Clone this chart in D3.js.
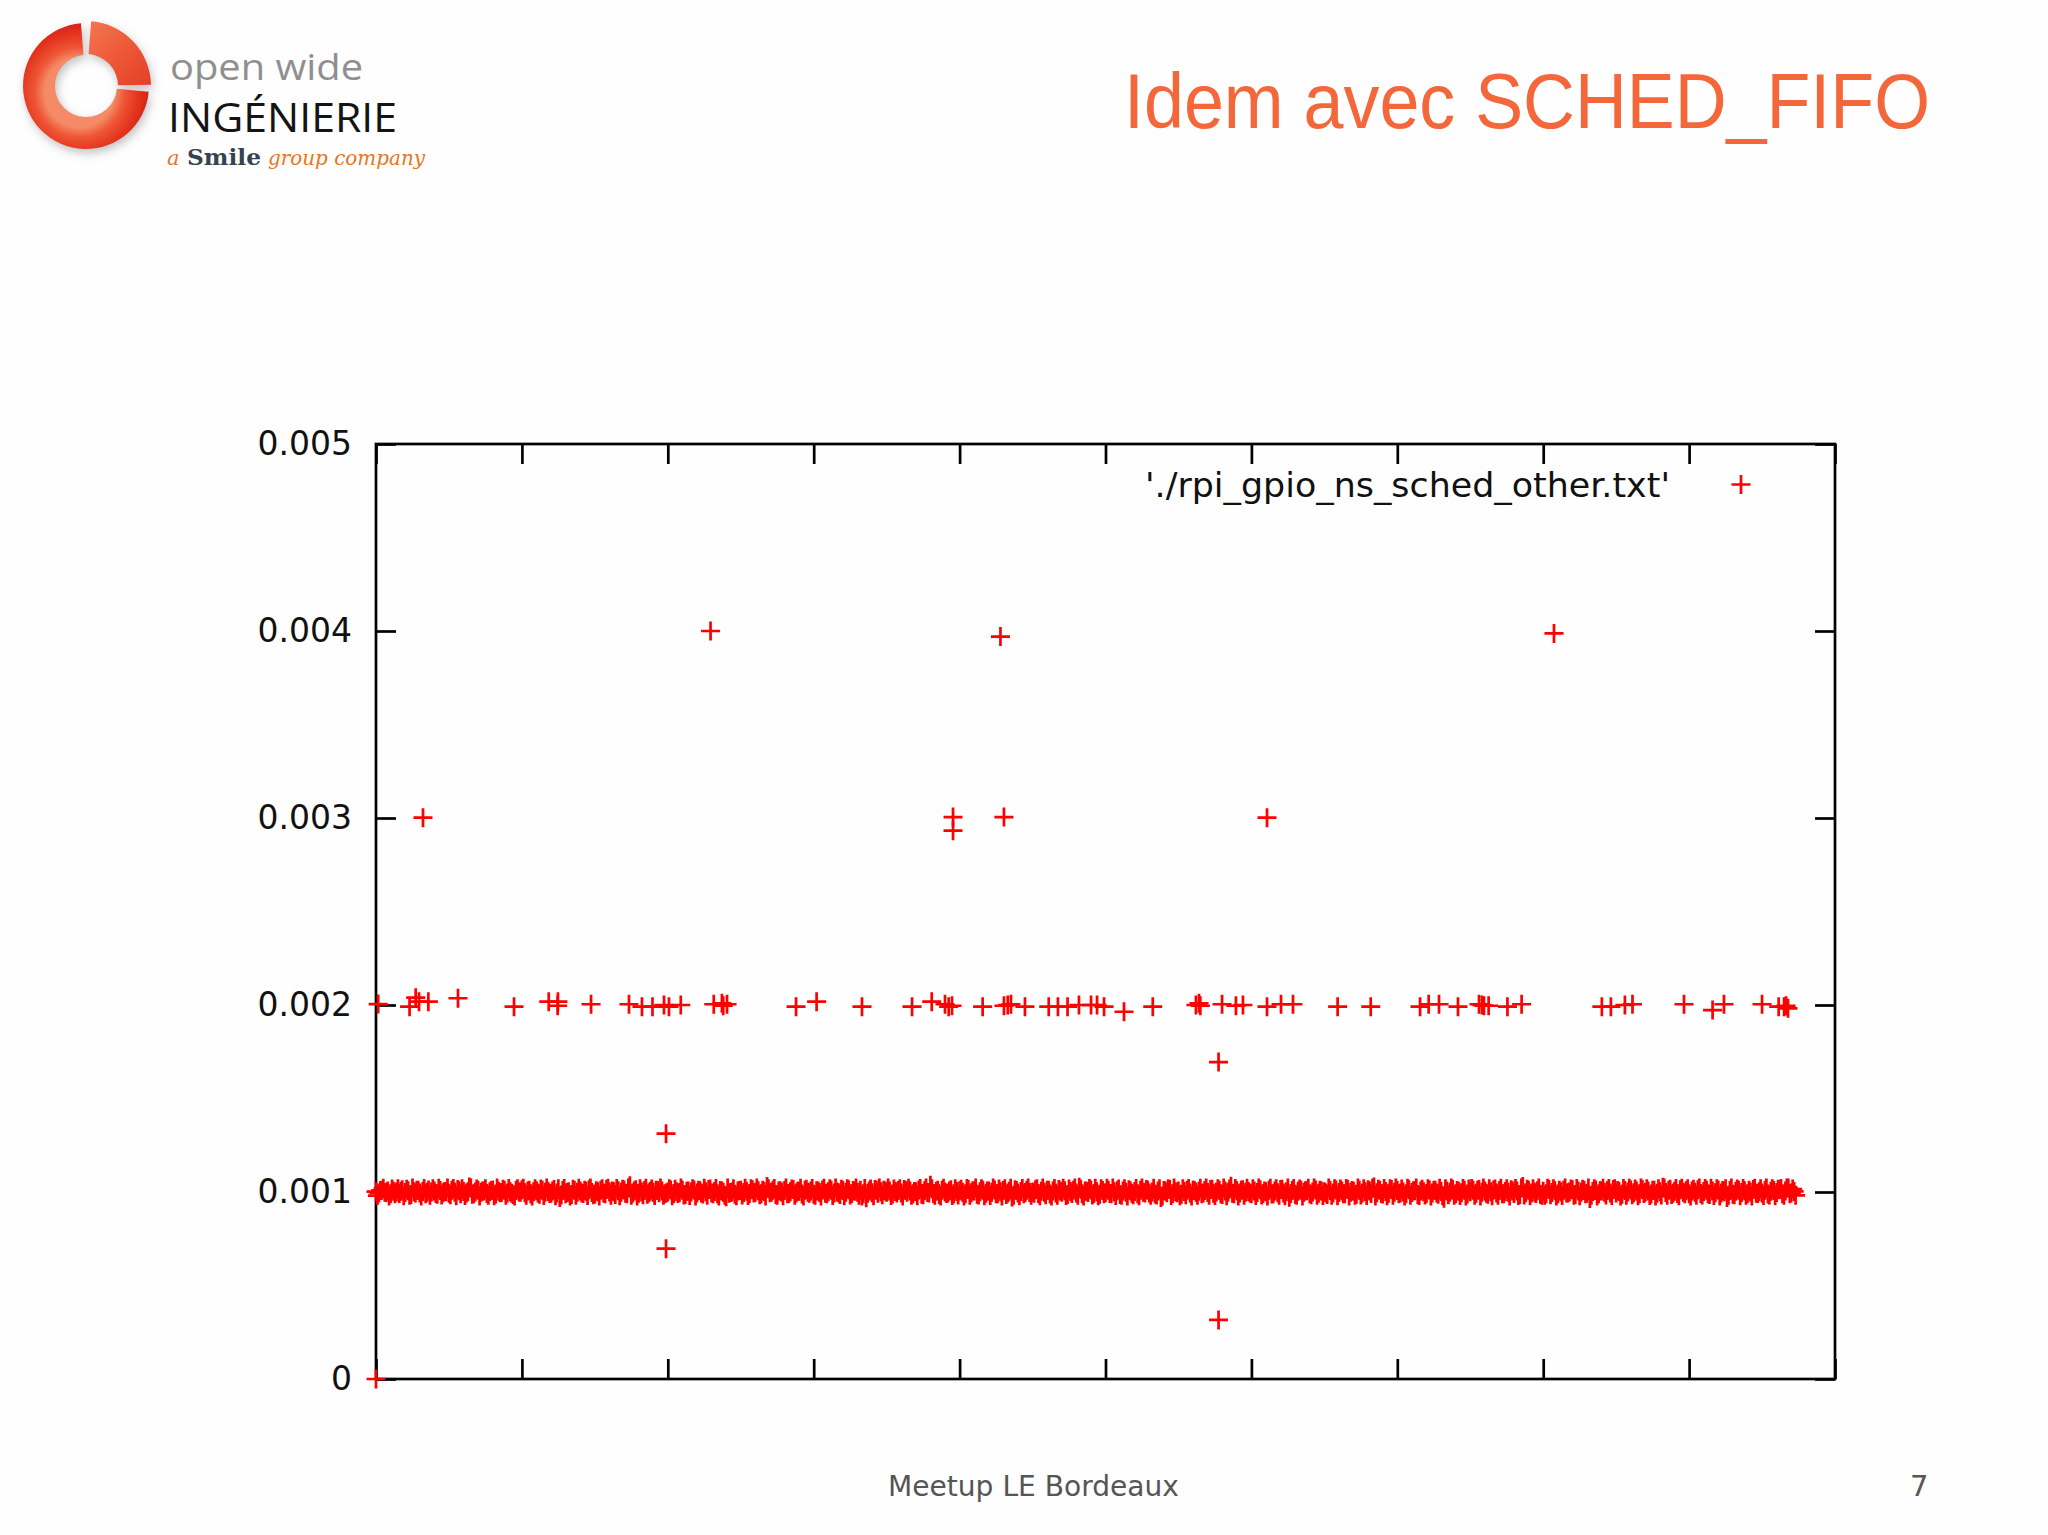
<!DOCTYPE html>
<html>
<head>
<meta charset="utf-8">
<script src="https://cdn.jsdelivr.net/npm/d3@7"></script>
<style>
  html, body { margin: 0; padding: 0; background: #ffffff; }
  svg { display: block; }
</style>
</head>
<body>
<svg id="slide" width="2048" height="1535"></svg>
<script>
// ---------------- DATA ----------------
const titleText = "Idem avec SCHED_FIFO";
const legendLabel = "'./rpi_gpio_ns_sched_other.txt'";
const footerText = "Meetup LE Bordeaux";
const pageNumber = "7";

const xDomain = [0, 10000];
const yDomain = [0, 0.005];
const xTickValues = [0, 1000, 2000, 3000, 4000, 5000, 6000, 7000, 8000, 9000, 10000];
const yTickValues = [0, 0.001, 0.002, 0.003, 0.004, 0.005];
const yTickLabels = ["0", "0.001", "0.002", "0.003", "0.004", "0.005"];

// dense main band around 1 ms: samples every bandStep indices (series A at index 0,20,40..., series B at 10,30,50...)
// value = bandBase + offset (µs)
const bandBase = 0.001;
const bandStep = 20;
const bandPhaseB = 10;
const bandOffsetsUsA = [
  2,-5,9,-1,6,-10,4,0,-8,12,-3,7,-13,1,9,-6,3,-10,11,0,5,-12,8,-4,1,
  -7,10,-2,13,-9,3,-5,27,-12,0,10,-1,6,-8,2,11,-11,4,-3,9,-6,1,-14,8,0,
  12,-4,5,-10,1,7,-12,10,-2,3,-7,14,-5,-30,8,-9,2,-13,10,-1,6,-8,4,12,-3,
  -11,1,9,-6,13,0,5,-14,7,-2,11,-9,33,-5,12,-7,0,8,-12,4,-1,10,-4,6,-10,
  0,11,-8,2,-3,9,-13,5,0,11,-6,7,-11,1,14,-5,3,-9,8,-2,-26,-7,0,-12,6,
  9,-3,4,-8,12,-1,7,-10,3,29,-4,10,-13,6,-2,8,-9,1,13,-6,4,-11,9,-1,5,
  -12,7,-3,11,-7,2,10,-5,0,-14,8,-2,12,-8,4,-1,9,-10,-31,6,-4,13,-7,1,10,
  -2,6,-11,3,8,-6,14,-1,5,-9,2,11,-12,7,-3,36,-8,4,-13,9,0,-5,12,-10,3,
  7,-1,-9,13,-4,5,-12,2,10,-7,6,-2,11,-10,1,8,-14,4,-27,12,-6,3,-9,9,-3,
  0,12,-8,4,-1,9,-11,6,-5,13,-2,7,-13,3,10,-6,25,-10,5,-3,11,-8,2,-12,8,
  -4,10,-9,1,7,-13,5,-1,12,-7,3,-10,9,-2,14,-5,0,-11,6,-29,8,-4,13,-8,2,
  6,-12,3,9,-6,11,-1,4,-10,8,-3,14,-7,0,10,-13,5,-2,31,-9,7,-5,12,-1,3,
  -9,5,-3,12,-8,1,9,-11,6,-4,13,-6,2,-28,8,-12,4,10,-2,7,-10,0,11,-7,5,
  1,-13,8,-5,11,-3,6,-9,14,-1,4,-12,9,-6,2,12,-8,27,-4,10,-11,3,-7,13,-2,
  8,-6,0,-10,12,-3,7,-14,5,1,-8,11,-5,9,-12,3,-33,6,-1,13,-9,4,-4,10,-11,
  2,9,-7,14,-2,6,-12,1,11,-5,8,-10,3,-1,12,-8,5,-13,29,-4,10,-6,0,7,-12,
  4,-9,13,-3,7,-11,2,10,-6,0,12,-13,6,-2,9,-7,-35,3,11,-10,5,-1,8,-5,14,
  -6,3,-12,8,0,11,-4,6,-9,13,-2,5,-11,10,-7,1,26,-3,9,-13,4,-8,12,-1,7,
  -10,5,-2,12,-8,3,9,-14,6,-4,11,-6,1,-30,8,-12,4,10,-3,7,-9,0,13,-7,2,
  -5,10,-11,4,8,-3,12,-9,6,22,-6,3
];
const bandOffsetsUsB = [
  -19,8,20,-3,-21,16,-9,18,4,-20,15,-17,21,-6,9,-21,19,-2,-18,17,-8,20,-16,3,21,
  -15,19,-20,7,17,-19,1,21,-9,16,-21,5,18,-17,8,-20,21,-4,15,-18,19,-7,-21,17,-1,
  20,-17,9,-21,18,-5,16,-19,21,-8,6,-20,17,-16,19,-3,-21,15,-18,20,-6,9,-19,21,-15,
  7,-21,18,-9,20,-17,2,19,-20,15,-7,21,-18,5,-21,17,-15,20,-4,16,-19,8,21,-17,-6,
  18,-20,15,-8,21,-16,4,-19,17,-21,9,-5,20,-18,16,-9,19,-21,6,-17,21,-3,18,-20,8,
  -16,20,-19,17,-6,21,-15,9,-21,18,-2,19,-17,7,-20,21,-8,16,-18,4,20,-21,15,-7,19,
  -18,6,-21,20,-9,17,-19,21,-4,15,-20,18,-16,8,21,-17,-21,19,-7,16,-20,9,21,-15,5,
  21,-19,16,-6,18,-21,8,20,-17,3,-20,19,-15,21,-5,17,-18,9,-21,20,-8,6,-19,18,-16,
  15,-21,19,-18,7,21,-16,17,-20,5,-19,21,-9,16,-21,18,-6,20,-17,8,-20,19,-3,21,-18,
  -7,18,-20,21,-15,9,-21,19,-17,6,20,-19,16,-8,21,-18,15,-21,4,19,-16,20,-20,17,-9,
  20,-8,21,-19,16,-17,18,-21,7,-15,19,-20,21,-6,9,-18,20,-16,17,-21,5,18,-19,21,-4,
  -20,17,-15,19,-21,8,-18,20,-6,21,-17,15,-19,18,-9,21,-20,16,-7,19,-21,9,-17,20,-5,
  17,-19,21,-16,6,-21,20,-9,18,-18,15,-20,21,-8,19,-17,16,-21,7,20,-15,21,-18,9,-19,
  -6,21,-17,18,-20,16,-9,19,-21,8,-18,21,-16,17,-19,5,20,-21,15,-8,19,-20,18,-17,21,
  -9,16,-21,20,-18,7,21,-19,15,-16,18,-21,9,-6,20,-20,17,-15,21,-17,8,-19,19,-21,16,
  19,-18,9,-21,21,-7,17,-20,16,-17,20,-9,18,-21,6,19,-19,21,-16,15,-20,17,-8,21,-18,
  -17,20,-15,18,-21,9,-19,21,-6,16,-18,19,-20,15,-9,21,-17,18,-21,7,20,-16,19,-19,17,
  8,-21,19,-17,20,-15,16,-20,21,-8,18,-19,9,-21,17,-16,21,-18,15,-7,19,-20,20,-9,18,
  -21,15,-18,21,-16,19,-9,20,-19,17,-21,8,18,-17,21,-15,16,-20,19,-18,9,-21,20,-8,17,
  -19,21,-16,18,-20,15,19,-17,21,-9,16,-18
];

// points around 0.002 (sample index, seconds)
const midRowX = [15,230,272,295,359,562,946,1184,1245,1247,1474,1734,1823,1895,1974,2008,2089,2315,2371,2380,2406,
  2879,3020,3331,3674,3809,3900,3925,3948,4158,4304,4330,4352,4448,4611,4674,4740,4818,4901,4942,4990,5127,
  5324,5620,5641,5650,5799,5894,5942,6107,6203,6285,6591,6818,7156,7215,7286,7416,7560,7580,7594,7626,7755,
  7852,8402,8464,8560,8612,8965,9161,9239,9500,9614,9651,9665,9678];
const midRowY = [0.002005,0.001991,0.002039,0.002018,0.002018,0.002036,0.001991,0.002018,0.001996,0.002018,0.002004,0.002004,0.001991,0.001991,0.002000,0.001991,0.002000,0.002004,0.002009,0.001996,0.002004,
  0.001991,0.002018,0.001991,0.001991,0.002018,0.002004,0.001991,0.001996,0.001991,0.001996,0.002000,0.002004,0.001991,0.001991,0.001991,0.001991,0.002000,0.002000,0.002000,0.001991,0.001964,
  0.001991,0.002000,0.002009,0.001996,0.002004,0.001996,0.002000,0.001991,0.002004,0.002004,0.001991,0.001991,0.001991,0.002004,0.002004,0.001991,0.002004,0.002000,0.001996,0.001996,0.001991,
  0.002004,0.001991,0.001991,0.002000,0.002004,0.002004,0.001973,0.002004,0.002004,0.001991,0.001991,0.001996,0.001982];

// isolated outliers
const outlierX = [0, 322, 2293, 4280, 8074, 3955, 3955, 4304, 6107, 5775, 1988, 1988, 5775];
const outlierY = [0, 0.003002, 0.004000, 0.003970, 0.003987, 0.003005, 0.002932, 0.003005, 0.003002, 0.001695, 0.001312, 0.000697, 0.000316];

// ---------------- DRAW ----------------
const svg = d3.select("#slide");
const RED = "#ff0000";
const ORANGE = "#f4673a";

svg.append("rect").attr("width", 2048).attr("height", 1535).attr("fill", "#fefefe");

// ---- logo ----
const defs = svg.append("defs");
const rg = defs.append("radialGradient").attr("id", "ringGrad")
  .attr("cx", 0.45).attr("cy", 0.55).attr("r", 0.58);
rg.append("stop").attr("offset", "0.48").attr("stop-color", "#f48a66");
rg.append("stop").attr("offset", "0.62").attr("stop-color", "#ee5534");
rg.append("stop").attr("offset", "0.82").attr("stop-color", "#e3321e");
rg.append("stop").attr("offset", "1").attr("stop-color", "#d01f18");
const rg2 = defs.append("linearGradient").attr("id", "ringGrad2")
  .attr("x1", 0).attr("y1", 0).attr("x2", 1).attr("y2", 1);
rg2.append("stop").attr("offset", "0").attr("stop-color", "#f47650");
rg2.append("stop").attr("offset", "0.6").attr("stop-color", "#ec5333");
rg2.append("stop").attr("offset", "1").attr("stop-color", "#e2402a");
const sh = defs.append("filter").attr("id", "logoShadow").attr("x", "-30%").attr("y", "-30%").attr("width", "160%").attr("height", "160%");
sh.append("feDropShadow").attr("dx", 2).attr("dy", 4).attr("stdDeviation", 5)
  .attr("flood-color", "#777").attr("flood-opacity", 0.45);

const logo = svg.append("g").attr("transform", "translate(86,86)").attr("filter", "url(#logoShadow)");
const arc = d3.arc();
logo.append("path")
  .attr("d", arc({innerRadius: 31, outerRadius: 63, startAngle: Math.PI / 2 + 0.09, endAngle: 2 * Math.PI - 0.08}))
  .attr("fill", "url(#ringGrad)");
logo.append("path")
  .attr("d", arc({innerRadius: 32, outerRadius: 65, startAngle: 0.08, endAngle: Math.PI / 2 - 0.02}))
  .attr("fill", "url(#ringGrad2)");

svg.append("text").attr("x", 170).attr("y", 80)
  .attr("font-family", "'Open Sans', sans-serif").attr("font-size", 37)
  .attr("fill", "#8f8f8f").attr("textLength", 193).attr("lengthAdjust", "spacingAndGlyphs")
  .text("open wide");
svg.append("text").attr("x", 168).attr("y", 132)
  .attr("font-family", "'Open Sans', sans-serif").attr("font-size", 41)
  .attr("fill", "#141414").attr("textLength", 229).attr("lengthAdjust", "spacingAndGlyphs")
  .text("INGÉNIERIE");
svg.append("text").attr("x", 167).attr("y", 165)
  .attr("font-family", "'DejaVu Serif', serif").attr("font-style", "italic").attr("font-size", 21)
  .attr("fill", "#e8761e").text("a");
svg.append("text").attr("x", 187).attr("y", 165)
  .attr("font-family", "'DejaVu Serif', serif").attr("font-weight", "bold").attr("font-size", 22)
  .attr("fill", "#34434f").attr("textLength", 74).attr("lengthAdjust", "spacingAndGlyphs").text("Smile");
svg.append("text").attr("x", 268).attr("y", 165)
  .attr("font-family", "'DejaVu Serif', serif").attr("font-style", "italic").attr("font-size", 21)
  .attr("fill", "#e8761e").attr("textLength", 157).attr("lengthAdjust", "spacingAndGlyphs").text("group company");

// ---- title ----
svg.append("text").attr("x", 1124).attr("y", 128)
  .attr("font-family", "'Liberation Sans', Arial, sans-serif").attr("font-size", 78)
  .attr("fill", ORANGE).attr("textLength", 806).attr("lengthAdjust", "spacingAndGlyphs")
  .text(titleText);

// ---- plot ----
const x = d3.scaleLinear().domain(xDomain).range([376, 1835]);
const y = d3.scaleLinear().domain(yDomain).range([1379, 444]);
const AXW = 2.7;

const plot = svg.append("g");

function styleAxis(g) {
  g.select(".domain").remove();
  g.selectAll(".tick line").attr("stroke", "#000").attr("stroke-width", AXW);
  g.selectAll(".tick text").attr("font-family", "'DejaVu Sans', sans-serif")
    .attr("font-size", 33).attr("fill", "#111");
}

plot.append("g").attr("transform", "translate(376,0)")
  .call(d3.axisLeft(y).tickValues(yTickValues).tickSize(-20).tickPadding(24)
    .tickFormat((d, i) => yTickLabels[i]))
  .call(styleAxis);
plot.append("g").attr("transform", "translate(1835,0)")
  .call(d3.axisRight(y).tickValues(yTickValues).tickSize(-20).tickFormat(""))
  .call(styleAxis);
plot.append("g").attr("transform", "translate(0,1379)")
  .call(d3.axisBottom(x).tickValues(xTickValues).tickSize(-20).tickFormat(""))
  .call(styleAxis);
plot.append("g").attr("transform", "translate(0,444)")
  .call(d3.axisTop(x).tickValues(xTickValues).tickSize(-20).tickFormat(""))
  .call(styleAxis);

plot.append("rect")
  .attr("x", x(xDomain[0])).attr("y", y(yDomain[1]))
  .attr("width", x(xDomain[1]) - x(xDomain[0])).attr("height", y(yDomain[0]) - y(yDomain[1]))
  .attr("fill", "none").attr("stroke", "#000").attr("stroke-width", AXW);

// markers
const plusPath = "M-9.5,0H9.5M0,-9.5V9.5";
const bandPtsA = bandOffsetsUsA.map((o, i) => ({x: i * bandStep, y: bandBase + o * 1e-6}));
const bandPtsB = bandOffsetsUsB.map((o, i) => ({x: i * bandStep + bandPhaseB, y: bandBase + o * 1e-6}));
const midPts = midRowX.map((v, i) => ({x: v, y: midRowY[i]}));
const outPts = outlierX.map((v, i) => ({x: v, y: outlierY[i]}));
const allPts = bandPtsA.concat(bandPtsB, midPts, outPts);

plot.append("g").selectAll("path").data(allPts).join("path")
  .attr("d", plusPath)
  .attr("transform", d => `translate(${x(d.x)},${y(d.y)})`)
  .attr("fill", "none").attr("stroke", RED).attr("stroke-width", 2.7);

// legend
plot.append("text").attr("x", 1670).attr("y", 497).attr("text-anchor", "end")
  .attr("font-family", "'DejaVu Sans', sans-serif").attr("font-size", 34).attr("fill", "#111")
  .attr("textLength", 525).attr("lengthAdjust", "spacingAndGlyphs")
  .text(legendLabel);
plot.append("path").attr("d", plusPath).attr("transform", "translate(1741,484.5)")
  .attr("fill", "none").attr("stroke", RED).attr("stroke-width", 2.7);

// ---- footer ----
svg.append("text").attr("x", 888).attr("y", 1496)
  .attr("font-family", "'DejaVu Sans', sans-serif").attr("font-size", 29)
  .attr("fill", "#555").attr("textLength", 291).attr("lengthAdjust", "spacingAndGlyphs")
  .text(footerText);
svg.append("text").attr("x", 1910).attr("y", 1496)
  .attr("font-family", "'DejaVu Sans', sans-serif").attr("font-size", 29)
  .attr("fill", "#555").text(pageNumber);
</script>
</body>
</html>
